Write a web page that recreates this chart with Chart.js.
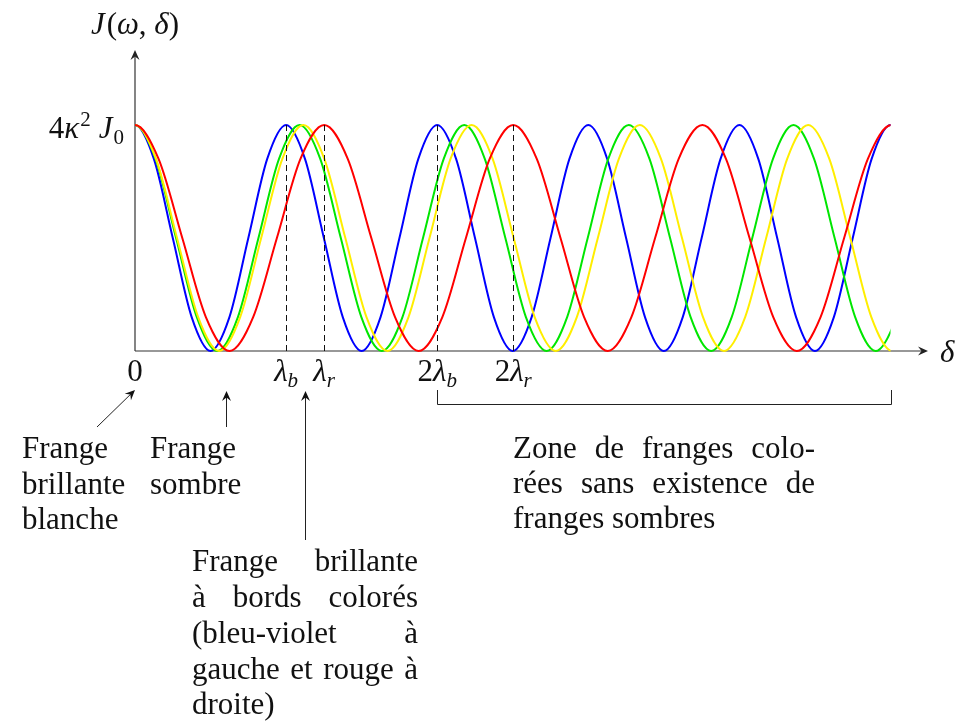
<!DOCTYPE html>
<html>
<head>
<meta charset="utf-8">
<script src="https://cdn.jsdelivr.net/npm/chart.js@4.4.1/dist/chart.umd.min.js"></script>
<style>
  body { margin: 0; background: #fff; }
  canvas { display: block; }
</style>
</head>
<body>
<canvas id="chartFranges" width="967" height="724"></canvas>
<script>
// delta in units of lambda_b, J normalised to 4 k^2 J0
// (one point on each side beyond 0 and 5 keeps the peaks flat; it is clipped away)
const xBlue = [-.125, 0, .125, .25, .375, .5, .625, .75, .875, 1, 1.125, 1.25, 1.375, 1.5, 1.625, 1.75, 1.875,
  2, 2.125, 2.25, 2.375, 2.5, 2.625, 2.75, 2.875, 3, 3.125, 3.25, 3.375, 3.5, 3.625, 3.75, 3.875,
  4, 4.125, 4.25, 4.375, 4.5, 4.625, 4.75, 4.875, 5, 5.125];
const yBlue = [.85, 1, .85, .5, .15, 0, .15, .5, .85, 1, .85, .5, .15, 0, .15, .5, .85,
  1, .85, .5, .15, 0, .15, .5, .85, 1, .85, .5, .15, 0, .15, .5, .85,
  1, .85, .5, .15, 0, .15, .5, .85, 1, .85];

const xGreen = [-.136, 0, .136, .272, .409, .545, .681, .817, .953, 1.089, 1.226, 1.362, 1.498, 1.634, 1.770, 1.906,
  2.043, 2.179, 2.315, 2.451, 2.587, 2.724, 2.860, 2.996, 3.132, 3.268, 3.405, 3.541, 3.677, 3.813,
  3.949, 4.085, 4.222, 4.358, 4.494, 4.630, 4.766, 4.902, 5.039, 5.175];
const yGreen = [.85, 1, .85, .5, .15, 0, .15, .5, .85, 1, .85, .5, .15, 0, .15, .5,
  .85, 1, .85, .5, .15, 0, .15, .5, .85, 1, .85, .5, .15, 0,
  .15, .5, .85, 1, .85, .5, .15, 0, .15, .5];

const xYellow = [-.139, 0, .139, .278, .418, .557, .696, .835, .975, 1.114, 1.253, 1.392, 1.532, 1.671, 1.810, 1.949,
  2.088, 2.228, 2.367, 2.506, 2.645, 2.785, 2.924, 3.063, 3.202, 3.341, 3.481, 3.620, 3.759, 3.898,
  4.038, 4.177, 4.316, 4.455, 4.595, 4.734, 4.873, 5.012, 5.151];
const yYellow = [.85, 1, .85, .5, .15, 0, .15, .5, .85, 1, .85, .5, .15, 0, .15, .5,
  .85, 1, .85, .5, .15, 0, .15, .5, .85, 1, .85, .5, .15, 0,
  .15, .5, .85, 1, .85, .5, .15, 0, .15];

const xRed = [-.156, 0, .156, .313, .469, .626, .782, .939, 1.095, 1.252, 1.408, 1.564, 1.721, 1.877, 2.034, 2.190,
  2.347, 2.503, 2.659, 2.816, 2.972, 3.129, 3.285, 3.442, 3.598, 3.755, 3.911, 4.067, 4.224, 4.380,
  4.537, 4.693, 4.850, 5.006, 5.162];
const yRed = [.85, 1, .85, .5, .15, 0, .15, .5, .85, 1, .85, .5, .15, 0, .15, .5,
  .85, 1, .85, .5, .15, 0, .15, .5, .85, 1, .85, .5, .15, 0,
  .15, .5, .85, 1, .85];

const xEnd = 5;     // curves stop here
const xAxisMax = 5.248;

// dashed markers and their labels
const markX = [1, 1.2515, 2, 2.503];
const tickX = [0, 1, 1.2515, 2, 2.503];
const tickLabels = [
  [{t: '0'}],
  [{t: 'λ', it: 1}, {t: 'b', it: 1, sub: 1}],
  [{t: 'λ', it: 1}, {t: 'r', it: 1, sub: 1}],
  [{t: '2'}, {t: 'λ', it: 1}, {t: 'b', it: 1, sub: 1}],
  [{t: '2'}, {t: 'λ', it: 1}, {t: 'r', it: 1, sub: 1}]
];

const FONT = '"Liberation Serif", "Times New Roman", serif';
const FS = 31;

function toPoints(xs, ys) {
  let pts = [];
  for (let i = 0; i < xs.length; i++) pts.push({x: xs[i], y: ys[i]});
  return pts;
}

function setFont(ctx, p) {
  let size = p.sub || p.sup ? 21 : FS;
  ctx.font = (p.it ? 'italic ' : '') + size + 'px ' + FONT;
}

function mathWidth(ctx, parts) {
  let w = 0;
  for (let p of parts) {
    setFont(ctx, p);
    w += ctx.measureText(p.t).width + (p.gap || 0);
  }
  return w;
}

function drawMath(ctx, parts, x, y, align) {
  let w = mathWidth(ctx, parts);
  let cx = align === 'center' ? x - w / 2 : align === 'right' ? x - w : x;
  for (let p of parts) {
    setFont(ctx, p);
    let dy = p.sub ? 6 : p.sup ? -12 : 0;
    ctx.fillText(p.t, cx, y + dy);
    cx += ctx.measureText(p.t).width + (p.gap || 0);
  }
}

function drawLine(ctx, words, left, right, y, justify) {
  ctx.font = FS + 'px ' + FONT;
  let total = 0;
  for (let w of words) total += ctx.measureText(w).width;
  let gap = ctx.measureText(' ').width;
  if (justify && words.length > 1) gap = (right - left - total) / (words.length - 1);
  let x = left;
  for (let w of words) {
    ctx.fillText(w, x, y);
    x += ctx.measureText(w).width + gap;
  }
}

function arrowHead(ctx, x, y, ang) {
  let c = Math.cos(ang), s = Math.sin(ang);
  ctx.beginPath();
  ctx.moveTo(x, y);
  ctx.lineTo(x - 10 * c + 4.5 * s, y - 10 * s - 4.5 * c);
  ctx.lineTo(x - 6.5 * c, y - 6.5 * s);
  ctx.lineTo(x - 10 * c - 4.5 * s, y - 10 * s + 4.5 * c);
  ctx.closePath();
  ctx.fill();
}

function arrow(ctx, x1, y1, x2, y2) {
  let ang = Math.atan2(y2 - y1, x2 - x1);
  ctx.beginPath();
  ctx.moveTo(x1, y1);
  ctx.lineTo(x2 - 6 * Math.cos(ang), y2 - 6 * Math.sin(ang));
  ctx.stroke();
  arrowHead(ctx, x2, y2, ang);
}

const axesPlugin = {
  id: 'axesPlugin',
  beforeDatasetsDraw(chart) {
    const ctx = chart.ctx, a = chart.chartArea;
    ctx.save();
    ctx.strokeStyle = '#333';
    ctx.fillStyle = '#222';
    ctx.lineWidth = 1.2;
    arrow(ctx, a.left, a.bottom, a.left, a.top);
    arrow(ctx, a.left, a.bottom, a.right, a.bottom);
    ctx.restore();
  },
  afterDatasetsDraw(chart) {
    const ctx = chart.ctx, a = chart.chartArea;
    const xs = chart.scales.x, ys = chart.scales.y;
    ctx.save();
    ctx.strokeStyle = '#111';
    ctx.lineWidth = 1;
    ctx.setLineDash([6, 4]);
    for (let v of markX) {
      let px = Math.round(xs.getPixelForValue(v)) + 0.5;
      ctx.beginPath();
      ctx.moveTo(px, ys.getPixelForValue(1));
      ctx.lineTo(px, ys.getPixelForValue(0));
      ctx.stroke();
    }
    ctx.setLineDash([]);

    ctx.fillStyle = '#111';
    ctx.textBaseline = 'alphabetic';
    // axis labels
    drawMath(ctx, [{t: 'J', it: 1, gap: 2}, {t: '('}, {t: 'ω', it: 1}, {t: ', '}, {t: 'δ', it: 1}, {t: ')'}], a.left, 34, 'center');
    drawMath(ctx, [{t: '4'}, {t: 'κ', it: 1, gap: 1}, {t: '2', sup: 1, gap: 8}, {t: 'J', it: 1, gap: 1}, {t: '0', sub: 1}], 124, 138, 'right');
    drawMath(ctx, [{t: 'δ', it: 1}], 940, 362, 'left');
    for (let i = 0; i < tickX.length; i++) {
      drawMath(ctx, tickLabels[i], xs.getPixelForValue(tickX[i]), 381, 'center');
    }

    // bracket over the coloured zone
    let bx1 = Math.round(xs.getPixelForValue(2)) + 0.5;
    let bx2 = Math.round(xs.getPixelForValue(xEnd)) + 0.5;
    ctx.strokeStyle = '#222';
    ctx.lineWidth = 1;
    ctx.beginPath();
    ctx.moveTo(bx1, 390);
    ctx.lineTo(bx1, 404.5);
    ctx.lineTo(bx2, 404.5);
    ctx.lineTo(bx2, 390);
    ctx.stroke();

    // annotation arrows
    ctx.fillStyle = '#111';
    ctx.lineWidth = 1;
    arrow(ctx, 97, 427, 135, 390);
    arrow(ctx, 226.5, 427, 226.5, 391);
    arrow(ctx, 305.5, 540, 305.5, 391);

    // annotation texts
    drawLine(ctx, ['Frange'], 22, 0, 458, false);
    drawLine(ctx, ['brillante'], 22, 0, 494, false);
    drawLine(ctx, ['blanche'], 22, 0, 529, false);
    drawLine(ctx, ['Frange'], 150, 0, 458, false);
    drawLine(ctx, ['sombre'], 150, 0, 494, false);

    drawLine(ctx, ['Frange', 'brillante'], 192, 418, 571, true);
    drawLine(ctx, ['à', 'bords', 'colorés'], 192, 418, 607, true);
    drawLine(ctx, ['(bleu-violet', 'à'], 192, 418, 643, true);
    drawLine(ctx, ['gauche', 'et', 'rouge', 'à'], 192, 418, 679, true);
    drawLine(ctx, ['droite)'], 192, 418, 714, false);

    drawLine(ctx, ['Zone', 'de', 'franges', 'colo-'], 513, 815, 458, true);
    drawLine(ctx, ['rées', 'sans', 'existence', 'de'], 513, 815, 493, true);
    drawLine(ctx, ['franges', 'sombres'], 513, 815, 528, false);
    ctx.restore();
  }
};

const ctx = document.getElementById('chartFranges').getContext('2d');

// clip the curves at x = 0 and x = xEnd instead of at the end of the axis
const curveClip = {left: 0, right: -(793 * (xAxisMax - xEnd) / xAxisMax), top: 5, bottom: 5};

const chart = new Chart(ctx, {
  type: 'line',
  data: {
    datasets: [
      {label: 'rouge', data: toPoints(xRed, yRed), borderColor: '#ff0000', clip: curveClip},
      {label: 'jaune', data: toPoints(xYellow, yYellow), borderColor: '#ffee00', clip: curveClip},
      {label: 'vert', data: toPoints(xGreen, yGreen), borderColor: '#00e600', clip: curveClip},
      {label: 'bleu', data: toPoints(xBlue, yBlue), borderColor: '#0000ff', clip: curveClip}
    ]
  },
  options: {
    responsive: false,
    animation: false,
    devicePixelRatio: 1,
    layout: {padding: {left: 135, right: 39, top: 50, bottom: 373}},
    elements: {
      line: {borderWidth: 2, cubicInterpolationMode: 'monotone', fill: false},
      point: {radius: 0}
    },
    plugins: {legend: {display: false}, tooltip: {enabled: false}},
    scales: {
      x: {type: 'linear', min: 0, max: xAxisMax, display: false},
      y: {type: 'linear', min: 0, max: 1.332, display: false}
    }
  },
  plugins: [axesPlugin]
});
</script>
</body>
</html>
